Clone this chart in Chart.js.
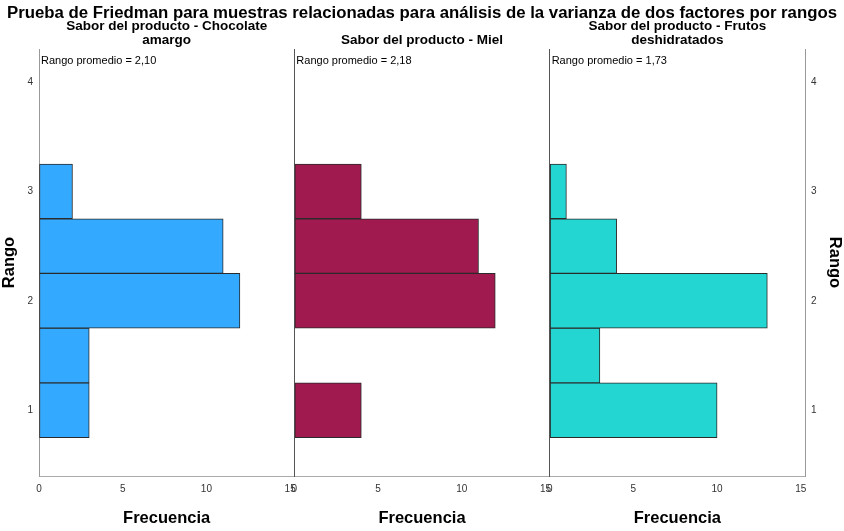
<!DOCTYPE html>
<html>
<head>
<meta charset="utf-8">
<script src="https://cdn.jsdelivr.net/npm/chart.js@4.4.1/dist/chart.umd.min.js"></script>
<style>
  html, body { margin:0; padding:0; background:#fff; }
  #wrap { position:relative; width:844px; height:531px; overflow:hidden; font-family:"Liberation Sans", Arial, sans-serif; }
  .layer { position:absolute; left:0; top:0; }
  .txt { position:absolute; white-space:nowrap; color:#000; }
  .mainTitle { left:0; width:844px; top:3px; text-align:center; font-weight:bold; font-size:16.8px; line-height:20px; }
  .pTitle { position:absolute; top:12px; height:35px; display:flex; flex-direction:column; justify-content:flex-end; align-items:center; font-weight:bold; font-size:13.5px; line-height:14px; color:#000; text-align:center; }
  .mean { font-size:11px; line-height:12px; color:#000; }
</style>
</head>
<body>
<div id="wrap">
  <canvas id="c0" class="layer" width="844" height="531"></canvas>
  <canvas id="c1" class="layer" width="844" height="531"></canvas>
  <canvas id="c2" class="layer" width="844" height="531"></canvas>
</div>
<script>
// ---- data ----
const binCenters = [1, 1.5, 2, 2.5, 3];
const chocolate = [3, 3, 12, 11, 2];
const miel = [4, 0, 12, 11, 4];
const frutos = [10, 3, 13, 4, 1];
const panelTitles = [
  ["Sabor del producto - Chocolate", "amargo"],
  ["Sabor del producto - Miel"],
  ["Sabor del producto - Frutos", "deshidratados"]
];
const meanLabels = ["Rango promedio = 2,10", "Rango promedio = 2,18", "Rango promedio = 1,73"];
const mainTitle = "Prueba de Friedman para muestras relacionadas para análisis de la varianza de dos factores por rangos";
const yAxisTitle = "Rango";
const xAxisTitle = "Frecuencia";
const series = [chocolate, miel, frutos];
const colors = ["#33aaff", "#a0194f", "#24d6d2"];

// ---- layout constants ----
const W = 844, H = 531;
const PLOT_L = 39, PLOT_R = 805, PLOT_T = 49, PLOT_B = 476;
const panelW = (PLOT_R - PLOT_L) / 3;

Chart.defaults.font.family = '"Liberation Sans", Arial, sans-serif';

const wrap = document.getElementById('wrap');
const mt = document.createElement('div');
mt.className = 'txt mainTitle';
mt.textContent = mainTitle;
wrap.appendChild(mt);

for (let i = 0; i < 3; i++) {
  const left = PLOT_L + i * panelW;
  const right = left + panelW;

  const pt = document.createElement('div');
  pt.className = 'pTitle';
  pt.style.left = left + 'px';
  pt.style.width = panelW + 'px';
  panelTitles[i].forEach(t => { const d = document.createElement('div'); d.textContent = t; pt.appendChild(d); });
  wrap.appendChild(pt);

  const ml = document.createElement('div');
  ml.className = 'txt mean';
  ml.style.left = (left + 2) + 'px';
  ml.style.top = '54px';
  ml.textContent = meanLabels[i];
  wrap.appendChild(ml);

  const intTicks = (s) => { s.ticks = s.ticks.filter(t => Number.isInteger(t.value)); };

  const scales = {
    x: {
      type: 'linear', min: 0, max: 15.25, offset: false,
      afterBuildTicks: (s) => { s.ticks = s.ticks.filter(t => t.value % 5 === 0); },
      ticks: { stepSize: 5, includeBounds: false, padding: 7, color: '#333', font: { size: 10 }, maxRotation: 0, autoSkip: false },
      grid: { drawOnChartArea: false, drawTicks: false, offset: false },
      border: { color: '#aaaaaa', width: 1 },
      title: { display: true, text: xAxisTitle, color: '#000', font: { size: 16.5, weight: 'bold' }, padding: { top: 0, bottom: 3 } },
      afterFit: (s) => { s.height = H - PLOT_B; }
    },
    y: {
      type: 'linear', position: 'left', min: 0.4, max: 4.3, offset: false,
      afterBuildTicks: intTicks,
      ticks: { display: i === 0, stepSize: 1, includeBounds: false, padding: 6, color: '#333', font: { size: 10 } },
      grid: { drawOnChartArea: false, drawTicks: false, offset: false },
      border: { color: i === 0 ? '#999999' : '#555555', width: 1 },
      title: { display: i === 0, text: yAxisTitle, color: '#000', font: { size: 16.5, weight: 'bold' }, padding: 0 },
      afterFit: (s) => { s.width = left; }
    }
  };
  if (i === 2) {
    scales.yR = {
      type: 'linear', position: 'right', min: 0.4, max: 4.3, offset: false,
      afterBuildTicks: intTicks,
      ticks: { display: true, stepSize: 1, includeBounds: false, padding: 6, color: '#333', font: { size: 10 } },
      grid: { drawOnChartArea: false, drawTicks: false, offset: false },
      border: { color: '#999999', width: 1 },
      title: { display: true, text: yAxisTitle, color: '#000', font: { size: 16.5, weight: 'bold' }, padding: 0 },
      afterFit: (s) => { s.width = W - PLOT_R; }
    };
  }

  new Chart(document.getElementById('c' + i), {
    type: 'bar',
    data: {
      datasets: [{
        data: binCenters.map((c, k) => ({ x: series[i][k], y: c })),
        backgroundColor: colors[i],
        borderColor: '#2b2b2b',
        borderWidth: 1,
        borderSkipped: false,
        categoryPercentage: 1,
        barPercentage: 1,
        yAxisID: 'y', xAxisID: 'x'
      }]
    },
    options: {
      indexAxis: 'y',
      responsive: false,
      animation: false,
      layout: { padding: { left: 0, right: i === 2 ? 0 : W - right, top: PLOT_T, bottom: 0 } },
      plugins: { legend: { display: false }, tooltip: { enabled: false }, title: { display: false } },
      scales: scales
    }
  });
}
</script>
</body>
</html>
